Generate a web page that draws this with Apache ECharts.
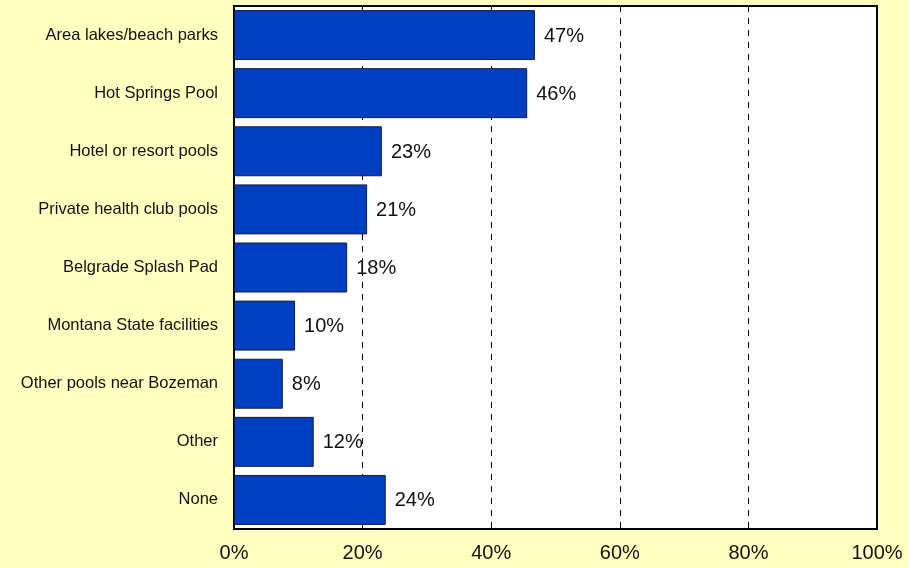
<!DOCTYPE html>
<html><head><meta charset="utf-8">
<script src="https://cdn.jsdelivr.net/npm/echarts@6/dist/echarts.min.js"></script>
<style>html,body{margin:0;padding:0;background:#FFFFC0;}#c{width:909px;height:568px;}</style>
</head><body><div id="c"></div>
<script>
const categories = ["Area lakes/beach parks","Hot Springs Pool","Hotel or resort pools","Private health club pools","Belgrade Splash Pad","Montana State facilities","Other pools near Bozeman","Other","None"];
const values = [46.8, 45.6, 23.0, 20.7, 17.6, 9.5, 7.6, 12.4, 23.6];
const valueLabels = ["47%","46%","23%","21%","18%","10%","8%","12%","24%"];
const xTicks = [0,20,40,60,80,100];

const chart = echarts.init(document.getElementById('c'));
chart.setOption({
  backgroundColor: '#FFFFC0',
  animation: false,
  grid: {left: 234, right: 32, top: 6, bottom: 39, containLabel: false,
         show: true, backgroundColor: '#FFFFFF', borderColor: '#000', borderWidth: 2},
  xAxis: {type: 'value', min: 0, max: 100, interval: 20,
    axisLine: {show: false}, axisTick: {show: false},
    splitLine: {show: true, lineStyle: {color: '#000', type: [6,6], width: 1}},
    axisLabel: {formatter: v => v + '%', color: '#111', fontSize: 20, fontFamily: 'Liberation Sans, Arial', margin: 14}},
  yAxis: {type: 'category', data: categories, inverse: true,
    axisLine: {show: false}, axisTick: {show: false},
    axisLabel: {color: '#111', fontSize: 16.5, fontFamily: 'Liberation Sans, Arial', margin: 16}},
  series: [{type: 'bar', data: values, barCategoryGap: '14%',
    itemStyle: {color: '#0040C0', borderColor: '#1a1a40', borderWidth: 1},
    label: {show: true, position: 'right', distance: 9, color: '#111', fontSize: 20,
      fontFamily: 'Liberation Sans, Arial', offset: [0, 1], formatter: p => valueLabels[p.dataIndex]}}]
});
</script></body></html>
